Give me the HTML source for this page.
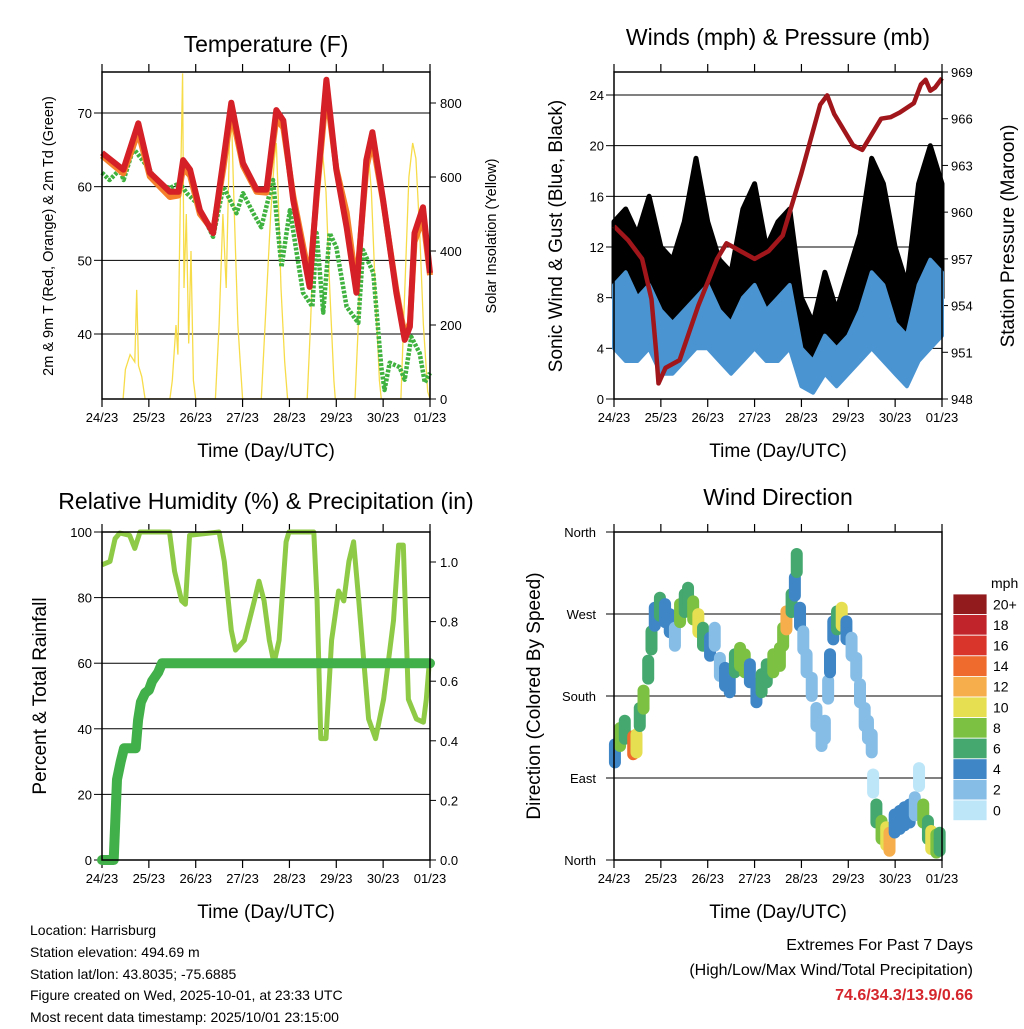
<!DOCTYPE html>
<html><head><meta charset="utf-8">
<style>
html,body{margin:0;padding:0;background:#fff;}
svg{display:block;font-family:"Liberation Sans",sans-serif;}
.info{position:absolute;font-family:"Liberation Sans",sans-serif;font-size:14px;color:#000;}
</style></head>
<body>
<div style="position:relative;width:1024px;height:1024px;">
<svg id="chart" width="1024" height="1024" viewBox="0 0 1024 1024"></svg>
<div class="info" style="left:30px;top:920px;line-height:21.8px;">
Location: Harrisburg<br>Station elevation: 494.69 m<br>Station lat/lon: 43.8035; -75.6885<br>Figure created on Wed, 2025-10-01, at 23:33 UTC<br>Most recent data timestamp: 2025/10/01 23:15:00
</div>
<div class="info" style="right:51px;top:933px;text-align:right;font-size:16px;line-height:25px;">
Extremes For Past 7 Days<br>(High/Low/Max Wind/Total Precipitation)<br><b style="color:#d4262c;">74.6/34.3/13.9/0.66</b>
</div>
</div>
<script>
// ---------- DATA ----------
const dayLabels = ["24/23","25/23","26/23","27/23","28/23","29/23","30/23","01/23"];
// Temperature (F)
const redTimes = [0,0.455,0.775,1.02,1.45,1.63,1.73,1.88,2.09,2.37,2.59,2.76,3.01,3.30,3.51,3.72,3.87,4.08,4.43,4.58,4.79,5.0,5.22,5.43,5.64,5.77,6.0,6.28,6.46,6.57,6.67,6.85,7.0];
const redTemp = [64.6,62.3,68.6,61.9,59.3,59.3,63.6,62.3,56.8,53.7,63.6,71.4,63.2,59.6,59.6,70.4,69,58.2,46.4,59.1,74.5,62.3,54.5,45.6,63.6,67.4,58.2,45.6,39.2,41,53.7,57.2,48.3];
const orangeTemp = [64.2,61.8,67.4,61.4,58.6,58.8,62.5,61.5,56.3,54.0,62.5,70.2,62.8,59.3,59.2,69.2,68.0,58.8,47.5,58.5,73.0,62.5,56.5,46.5,62.5,66.2,58.0,46.0,39.8,41.5,52.5,55.8,48.0];
const greenTimes = [0,0.16,0.38,0.46,0.67,1.02,1.17,1.45,1.66,1.81,2.02,2.2,2.37,2.59,2.87,3.01,3.23,3.4,3.65,3.83,4.01,4.29,4.49,4.58,4.72,4.86,5.0,5.22,5.47,5.57,5.79,5.96,6.03,6.14,6.35,6.46,6.6,6.78,6.89,7.0];
const greenDew = [61.9,60.9,62.3,60.9,65.2,62.3,60.5,59.8,60.5,59.1,57.8,55.5,53.2,60,56.4,59.1,56.4,54.5,60.9,49.1,56.8,45.6,43.7,53.7,42.9,53.7,51.8,43.7,41.5,51.4,48.3,35.5,32.4,36.1,35.5,33.8,39.6,37.4,33.4,34.7];
const solarTimes = [0.45,0.5,0.6,0.7,0.74,0.78,0.85,0.92,1.45,1.5,1.58,1.62,1.68,1.72,1.75,1.8,1.85,1.9,1.95,2.0,2.42,2.5,2.58,2.65,2.72,2.76,2.8,2.85,2.9,2.95,3.0,3.4,3.5,3.6,3.68,3.72,3.76,3.82,3.9,3.96,4.38,4.45,4.55,4.63,4.7,4.78,4.86,4.95,4.98,5.4,5.47,5.55,5.62,5.68,5.75,5.83,5.92,5.96,6.38,6.45,6.55,6.63,6.7,6.78,6.86,6.95,7.0];
const solarW = [0,80,120,100,295,90,60,0,0,50,200,120,600,880,300,500,150,400,50,0,0,200,500,300,700,790,600,400,200,100,0,0,250,500,650,692,550,300,100,0,0,200,550,670,678,560,300,50,0,0,200,500,660,673,560,300,50,0,0,250,600,692,650,450,200,20,0];
// Winds (mph) & pressure (mb)
const windTimes = [0,0.25,0.5,0.75,1,1.25,1.5,1.75,2,2.25,2.5,2.75,3,3.25,3.5,3.75,4,4.25,4.5,4.75,5,5.25,5.5,5.75,6,6.25,6.5,6.75,7];
const windLo = [4,3,3,4,2,2,3,4,4,3,2,3,4,3,3,4,1,0.5,2,1,2,3,4,3,2,1,3,4,5];
const windHi = [9,10,8,9,7,6,7,8,9,7,6,8,9,7,8,9,4,3,5,4,5,7,10,9,6,5,9,11,10];
const gustLo = [8,7,6,8,6,5,6,8,6,5,4,7,8,6,6,8,3,2,4,3,4,6,8,7,5,3,7,8,8];
const gustHi = [14,15,13,16,12,11,14,19,14,11,10,15,17,12,14,15,8,6,10,7,10,13,19,17,12,9,17,20,17];
const presTimes = [0,0.3,0.6,0.8,0.9,0.95,1.1,1.4,1.8,2.2,2.4,2.7,3.0,3.3,3.6,4.0,4.4,4.55,4.7,4.9,5.1,5.3,5.5,5.7,5.9,6.1,6.4,6.55,6.65,6.75,6.85,7.0];
const presMb = [959.1,958.2,957,954.4,951,949,950,950.5,954,957,958,957.5,957,957.5,958.5,962.5,966.9,967.5,966.3,965.3,964.3,964,965,966,966.1,966.4,967,968.2,968.5,967.8,968,968.6];
// RH (%) & precipitation (in)
const rhTimes = [0,0.17,0.28,0.38,0.59,0.7,0.81,1.44,1.55,1.7,1.78,1.87,2.5,2.61,2.76,2.85,3.04,3.25,3.35,3.46,3.57,3.67,3.78,3.93,3.99,4.52,4.59,4.67,4.78,4.9,5.05,5.16,5.27,5.37,5.48,5.69,5.84,6.01,6.22,6.33,6.43,6.54,6.71,6.86,6.92,6.99];
const rhPct = [90,91,98,99.7,99,95,100,100,88,79,78,99,100,91,70,64,67,79,85,79,67,60,67,97,100,100,79,37,37,67,82,79,91,97,79,43,37,49,73,96,96,49,43,42,49,61];
const precipTimes = [0,0.25,0.32,0.4,0.47,0.72,0.77,0.83,0.92,1.0,1.07,1.2,1.28,7.0];
const precipIn = [0,0,0.27,0.33,0.375,0.375,0.47,0.53,0.56,0.57,0.6,0.63,0.66,0.66];
// Wind direction (deg) colored by speed (mph)
const dirTimes = [0.02,0.13,0.23,0.41,0.48,0.55,0.63,0.73,0.80,0.87,0.98,1.09,1.19,1.30,1.41,1.51,1.58,1.69,1.80,1.90,2.05,2.15,2.26,2.37,2.47,2.58,2.69,2.79,2.90,3.04,3.15,3.26,3.40,3.54,3.61,3.68,3.79,3.86,3.90,3.97,4.04,4.11,4.22,4.32,4.43,4.50,4.57,4.61,4.68,4.76,4.86,4.96,5.07,5.17,5.25,5.35,5.42,5.50,5.53,5.60,5.71,5.81,5.88,5.99,6.10,6.20,6.31,6.42,6.51,6.60,6.70,6.77,6.88,6.95];
const dirDeg = [117,135,143,126,128,157,176,209,241,267,278,271,260,245,271,282,289,274,260,245,234,245,212,201,194,216,223,216,205,183,194,205,216,223,245,263,282,300,326,267,241,216,190,157,135,143,187,216,252,263,267,252,234,212,183,157,143,128,84,51,33,26,20,40,44,48,51,59,91,51,33,22,18,20];
const dirSpeed = [4,8,6,14,10,6,8,6,6,4,6,4,4,2,8,6,6,8,10,6,4,2,2,4,4,6,8,8,4,4,6,6,8,8,8,12,6,4,6,4,2,2,2,2,2,2,2,4,4,6,10,4,2,2,2,2,2,2,0,6,8,10,12,4,4,4,4,2,0,8,6,10,8,6];
const speedLevels = ["0","2","4","6","8","10","12","14","16","18","20+"];
const speedColors = ["#bde6f9","#86bde6","#3f86c6","#45a86e","#7dc143","#e6df52","#f6ad4b","#ef6b2d","#d9352a","#c1242a","#921b1e"];
const dirNames = ["North","East","South","West","North"];

// ---------- HELPERS ----------
const NS = "http://www.w3.org/2000/svg";
const svg = document.getElementById("chart");
function mk(tag, attrs, parent){
  const e = document.createElementNS(NS, tag);
  for (const k in attrs) e.setAttribute(k, attrs[k]);
  (parent||svg).appendChild(e);
  return e;
}
function txt(s, x, y, size, anchor, parent, extra){
  const t = mk("text", Object.assign({x:x, y:y, "font-size":size, "text-anchor":anchor||"middle", fill:"#000"}, extra||{}), parent);
  t.textContent = s;
  return t;
}
function lin(d0,d1,p0,p1){ return v => p0 + (v-d0)*(p1-p0)/(d1-d0); }

function panelFrame(P, name){
  const g = mk("g", {});
  
  
  return g;
}
function xAxis(P, g){
  const X = lin(0,7,P.x0,P.x1);
  for (let i=0;i<dayLabels.length;i++){
    const x = X(i);
    mk("line",{x1:x,y1:P.y1,x2:x,y2:P.y1+8,stroke:"#000","stroke-width":1.2},g);
    mk("line",{x1:x,y1:P.y0,x2:x,y2:P.y0-8,stroke:"#000","stroke-width":1.2},g);
    const t = txt(dayLabels[i], x, P.y1+23, 13, "middle", g);
    
    
  }
  const xt = txt("Time (Day/UTC)", (P.x0+P.x1)/2, P.y1+58, 19, "middle", g);
  
  
  return X;
}
function box(P,g){
  const r = mk("rect",{x:P.x0,y:P.y0,width:P.x1-P.x0,height:P.y1-P.y0,fill:"none",stroke:"#000","stroke-width":1.5},g);
  
  
}
function grid(P,g,y){ mk("line",{x1:P.x0,y1:y,x2:P.x1,y2:y,stroke:"#000","stroke-width":1},g); }
function poly(xs, ys, X, Y){ return xs.map((t,i)=>X(t).toFixed(1)+","+Y(ys[i]).toFixed(1)).join(" "); }
function yTitle(s,x,y,size,g,name){
  const t = txt(s, x, y, size, "middle", g, {transform:"rotate(-90 "+x+" "+y+")"});
  
  
}
function title(s,x,y,g,name){
  const t = txt(s,x,y,23,"middle",g);
  
  
}

// ---------- PANEL 1: TEMPERATURE ----------
(function(){
  const P = {x0:102,x1:430,y0:72,y1:399};
  const g = panelFrame(P,"temperature-panel");
  const X = xAxis(P,g);
  const Y = lin(70,40,113,334);
  const YS = lin(0,800,399,103);
  [40,50,60,70].forEach(v=>{ grid(P,g,Y(v)); mk("line",{x1:P.x0-8,y1:Y(v),x2:P.x0,y2:Y(v),stroke:"#000"},g);
    const t=txt(String(v),P.x0-10,Y(v)+5,13,"end",g);   });
  [0,200,400,600,800].forEach(v=>{ mk("line",{x1:P.x1,y1:YS(v),x2:P.x1+6,y2:YS(v),stroke:"#000"},g);
    const t=txt(String(v),P.x1+10,YS(v)+5,13,"start",g);   });
  const clip = mk("clipPath",{id:"c1"},g); mk("rect",{x:P.x0,y:P.y0,width:P.x1-P.x0,height:P.y1-P.y0},clip);
  const s = mk("polyline",{points:poly(solarTimes,solarW,X,YS),fill:"none",stroke:"#f7dc4a","stroke-width":1.3,"clip-path":"url(#c1)"},g);
   
  const gr = mk("polyline",{points:poly(greenTimes,greenDew,X,Y),fill:"none",stroke:"#3fb23f","stroke-width":4.5,"stroke-dasharray":"3 1.5","stroke-linejoin":"round"},g);
   
  const o = mk("polyline",{points:poly(redTimes,orangeTemp,X,Y),fill:"none",stroke:"#f57f2a","stroke-width":6,"stroke-linejoin":"round"},g);
   
  const r = mk("polyline",{points:poly(redTimes,redTemp,X,Y),fill:"none",stroke:"#d42026","stroke-width":6,"stroke-linejoin":"round"},g);
   
  box(P,g);
  title("Temperature (F)",266,52,g,"temperature-title");
  yTitle("2m & 9m T (Red, Orange) & 2m Td (Green)",53,236,14.5,g,"temperature-y-title");
  yTitle("Solar Insolation (Yellow)",496,236,14.5,g,"solar-y-title");
})();

// ---------- PANEL 2: WINDS ----------
(function(){
  const P = {x0:614,x1:942,y0:72,y1:399};
  const g = panelFrame(P,"winds-panel");
  const X = xAxis(P,g);
  const Y = lin(0,24,399,95);
  const YP = lin(948,969,399,72);
  [0,4,8,12,16,20,24].forEach(v=>{ grid(P,g,Y(v)); mk("line",{x1:P.x0-8,y1:Y(v),x2:P.x0,y2:Y(v),stroke:"#000"},g);
    const t=txt(String(v),P.x0-10,Y(v)+5,13,"end",g);   });
  [948,951,954,957,960,963,966,969].forEach(v=>{ mk("line",{x1:P.x1,y1:YP(v),x2:P.x1+6,y2:YP(v),stroke:"#000"},g);
    const t=txt(String(v),P.x1+9,YP(v)+5,13,"start",g);   });
  const gp = windTimes.map((t,i)=>X(t).toFixed(1)+","+Y(gustHi[i]).toFixed(1)).join(" ")+" "+
    windTimes.slice().reverse().map((t,j)=>{const i=windTimes.length-1-j; return X(t).toFixed(1)+","+Y(gustLo[i]).toFixed(1);}).join(" ");
  const gb = mk("polygon",{points:gp,fill:"#000",stroke:"#000","stroke-width":5,"stroke-linejoin":"round"},g);
   
  const wp = windTimes.map((t,i)=>X(t).toFixed(1)+","+Y(windHi[i]).toFixed(1)).join(" ")+" "+
    windTimes.slice().reverse().map((t,j)=>{const i=windTimes.length-1-j; return X(t).toFixed(1)+","+Y(windLo[i]).toFixed(1);}).join(" ");
  const wb = mk("polygon",{points:wp,fill:"#4a94d2",stroke:"#4a94d2","stroke-width":4,"stroke-linejoin":"round"},g);
   
  const p = mk("polyline",{points:poly(presTimes,presMb,X,YP),fill:"none",stroke:"#a0161b","stroke-width":4.5,"stroke-linejoin":"round"},g);
   
  box(P,g);
  title("Winds (mph) & Pressure (mb)",778,45,g,"winds-title");
  yTitle("Sonic Wind & Gust (Blue, Black)",562,236,19,g,"wind-y-title");
  yTitle("Station Pressure (Maroon)",1014,236,19,g,"pressure-y-title");
})();

// ---------- PANEL 3: RH & PRECIP ----------
(function(){
  const P = {x0:102,x1:430,y0:532,y1:860};
  const g = panelFrame(P,"humidity-panel");
  const X = xAxis(P,g);
  const Y = lin(0,100,860,532);
  const YR = lin(0,1,860,562);
  [0,20,40,60,80,100].forEach(v=>{ grid(P,g,Y(v)); mk("line",{x1:P.x0-8,y1:Y(v),x2:P.x0,y2:Y(v),stroke:"#000"},g);
    const t=txt(String(v),P.x0-10,Y(v)+5,13,"end",g);   });
  [0,0.2,0.4,0.6,0.8,1.0].forEach(v=>{ mk("line",{x1:P.x1,y1:YR(v),x2:P.x1+6,y2:YR(v),stroke:"#000"},g);
    const t=txt(v.toFixed(1),P.x1+10,YR(v)+5,13,"start",g);   });
  const rh = mk("polyline",{points:poly(rhTimes,rhPct,X,Y),fill:"none",stroke:"#8fca47","stroke-width":5,"stroke-linejoin":"round"},g);
   
  const pr = mk("polyline",{points:poly(precipTimes,precipIn,X,YR),fill:"none",stroke:"#42b04a","stroke-width":10,"stroke-linejoin":"round","stroke-linecap":"round"},g);
   
  box(P,g);
  title("Relative Humidity (%) & Precipitation (in)",266,509,g,"humidity-title");
  yTitle("Percent & Total Rainfall",46,696,19,g,"humidity-y-title");
})();

// ---------- PANEL 4: WIND DIRECTION ----------
(function(){
  const P = {x0:614,x1:942,y0:532,y1:860};
  const g = panelFrame(P,"wind-direction-panel");
  const X = xAxis(P,g);
  const Y = lin(0,360,860,532);
  dirNames.forEach((n,i)=>{ const v=i*90; grid(P,g,Y(v)); mk("line",{x1:P.x0-8,y1:Y(v),x2:P.x0,y2:Y(v),stroke:"#000"},g);
    const t=txt(n,P.x0-18,Y(v)+5,13,"end",g);   });
  dirTimes.forEach((t,i)=>{
    const ci = Math.min(10, Math.round(dirSpeed[i]/2));
    const e = mk("rect",{x:X(t)-6,y:Y(dirDeg[i])-15,width:12,height:30,rx:6,fill:speedColors[ci]},g);
    
    
  });
  box(P,g);
  title("Wind Direction",778,505,g,"wind-direction-title");
  yTitle("Direction (Colored By Speed)",540,696,19,g,"direction-y-title");
  // colorbar
  const cb = mk("g",{});
  
  
  const ch = 20.6, cy0 = 594;
  for (let i=0;i<speedLevels.length;i++){
    const k = speedLevels.length-1-i;
    const y = cy0 + i*ch;
    const r = mk("rect",{x:953,y:y,width:34,height:ch,fill:speedColors[k],stroke:"#fff","stroke-width":0.8},cb);
    
    
    const t = txt(speedLevels[k],993,y+ch/2+5,14,"start",cb);
    
    
  }
  const m = txt("mph",991,588,14,"start",cb);
  
  
})();
</script>
</body></html>
